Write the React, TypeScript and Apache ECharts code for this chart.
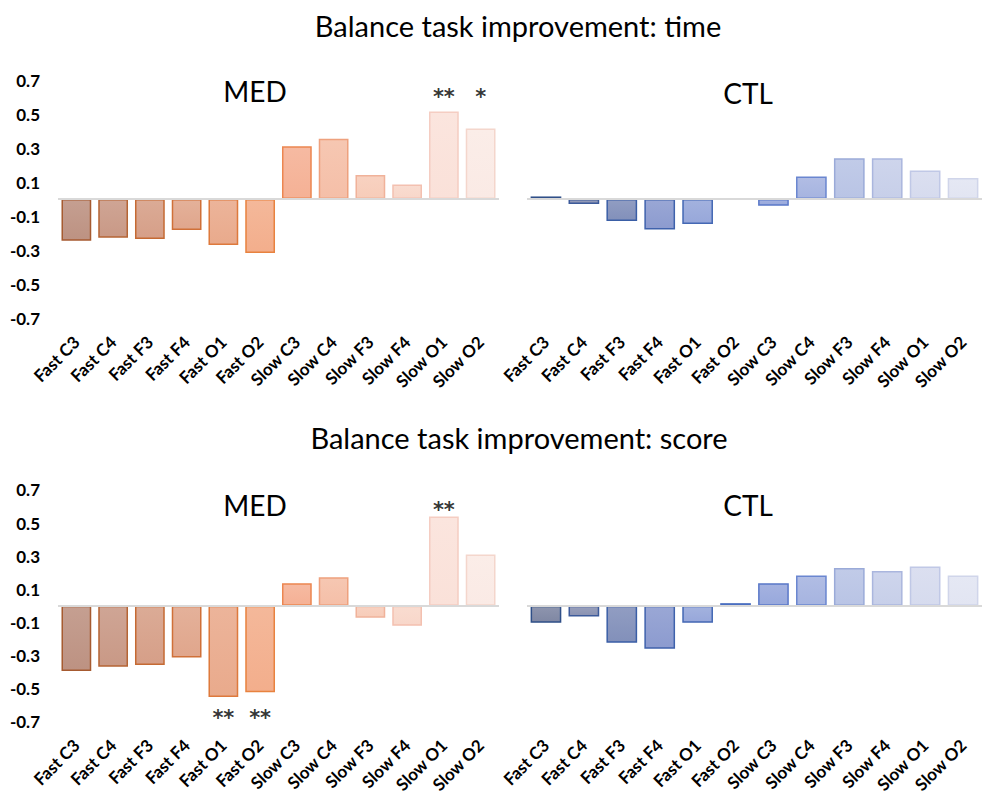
import React, { useEffect, useRef } from "react";
import * as echarts from "echarts";

// Electrode / speed conditions on the x axis
const categories = [
  "Fast C3", "Fast C4", "Fast F3", "Fast F4", "Fast O1", "Fast O2",
  "Slow C3", "Slow C4", "Slow F3", "Slow F4", "Slow O1", "Slow O2",
];

// Labelled ticks on the value axis
const yTicks = [0.7, 0.5, 0.3, 0.1, -0.1, -0.3, -0.5, -0.7];

// Balance task improvement: time
const timeMed = [-0.245, -0.228, -0.235, -0.182, -0.27, -0.318, 0.31, 0.355, 0.141, 0.086, 0.515, 0.415];
const timeCtl = [0.015, -0.03, -0.13, -0.18, -0.147, 0, -0.04, 0.133, 0.239, 0.239, 0.168, 0.124];

// Balance task improvement: score
const scoreMed = [-0.394, -0.368, -0.358, -0.312, -0.551, -0.523, 0.137, 0.173, -0.072, -0.121, 0.539, 0.31];
const scoreCtl = [-0.103, -0.064, -0.223, -0.26, -0.103, 0.016, 0.137, 0.183, 0.229, 0.211, 0.237, 0.183];

// Significance marks: [category, mark, side]
const timeMedStars: [string, string, "above" | "below"][] = [
  ["Slow O1", "**", "above"],
  ["Slow O2", "*", "above"],
];
const scoreMedStars: [string, string, "above" | "below"][] = [
  ["Slow O1", "**", "above"],
  ["Fast O1", "**", "below"],
  ["Fast O2", "**", "below"],
];

// Per-category palettes (fill, border)
const medFill = ["#bd9282", "#c99986", "#d69f88", "#e0a68c", "#e9aa8c", "#f3ae8c", "#f5b195", "#f5bfa8", "#f7ccb9", "#f8d7ca", "#fae1d9", "#faeae5"];
const medBorder = ["#a65a30", "#b56434", "#c56a33", "#d07038", "#de793c", "#e8823f", "#ec8650", "#eea17e", "#f0b29a", "#f3c0b0", "#f5cdc2", "#f4d6cc"];
const ctlFill = ["#7f87a3", "#8a92b2", "#8290ba", "#8c9bcf", "#97a7da", "#95a6db", "#98a8dc", "#a6b4e0", "#b9c4e5", "#c7cfe9", "#d6dbee", "#e2e5f2"];
const ctlBorder = ["#2f4f88", "#3c5a9a", "#3a5ea6", "#3f62ac", "#4468b4", "#4a6ec0", "#5a78c8", "#6a86d0", "#9aaad8", "#aab6de", "#c0c8e6", "#d0d5ea"];

const FONT = "Lato, 'Open Sans', 'DejaVu Sans', sans-serif";

function lighten(hex: string, amt: number): string {
  const n = parseInt(hex.slice(1), 16);
  const r = (n >> 16) & 255, g = (n >> 8) & 255, b = n & 255;
  const f = (c: number) => Math.round(c + (255 - c) * amt);
  return `rgb(${f(r)},${f(g)},${f(b)})`;
}

function barData(values: number[], fills: string[], borders: string[]) {
  return values.map((v, i) => ({
    value: v,
    itemStyle: {
      color: new echarts.graphic.LinearGradient(0, 0, 0, 1, [
        { offset: 0, color: lighten(fills[i], 0.12) },
        { offset: 1, color: fills[i] },
      ]),
      borderColor: borders[i],
      borderWidth: 1.5,
    },
  }));
}

export default function App() {
  const ref = useRef<HTMLDivElement>(null);

  useEffect(() => {
    if (!ref.current) return;
    const chart = echarts.init(ref.current, null, { renderer: "svg" });

    const grids = [
      { left: 58, top: 63, width: 441, height: 272 },
      { left: 527, top: 63, width: 465, height: 272 },
      { left: 58, top: 473.4, width: 441, height: 264.8 },
      { left: 527, top: 473.4, width: 465, height: 264.8 },
    ];

    const xAxis = grids.map((_, i) => ({
      type: "category" as const,
      gridIndex: i,
      data: categories,
      axisLine: { show: false },
      axisTick: { show: false },
      axisLabel: {
        rotate: 45,
        interval: 0,
        margin: 4,
        color: "#000",
        fontWeight: "bold" as const,
        fontSize: 17,
        fontFamily: FONT,
      },
    }));

    const yAxis = grids.map((_, i) => ({
      type: "value" as const,
      gridIndex: i,
      min: -0.8,
      max: 0.8,
      interval: 0.1,
      axisLine: { show: false },
      axisTick: { show: false },
      splitLine: { show: false },
      axisLabel: {
        show: i % 2 === 0,
        margin: 18,
        color: "#000",
        fontWeight: "bold" as const,
        fontSize: 17,
        fontFamily: FONT,
        formatter: (v: number) =>
          yTicks.some((t) => Math.abs(t - v) < 1e-6) ? v.toFixed(1) : "",
      },
    }));

    const panels = [
      { values: timeMed, fills: medFill, borders: medBorder },
      { values: timeCtl, fills: ctlFill, borders: ctlBorder },
      { values: scoreMed, fills: medFill, borders: medBorder },
      { values: scoreCtl, fills: ctlFill, borders: ctlBorder },
    ];

    const series: any[] = [];
    panels.forEach((p, i) => {
      series.push({
        type: "bar",
        xAxisIndex: i,
        yAxisIndex: i,
        barCategoryGap: "19%",
        data: barData(p.values, p.fills, p.borders),
        z: 2,
      });
      series.push({
        type: "line",
        xAxisIndex: i,
        yAxisIndex: i,
        data: [],
        z: 5,
        markLine: {
          silent: true,
          symbol: ["none", "none"],
          label: { show: false },
          lineStyle: { color: "#d9d9d9", width: 2, type: "solid" },
          data: [{ yAxis: 0 }],
        },
      });
    });

    // Asterisks sit at a fixed height above / below the plotted bars
    const starSeries = (
      stars: [string, string, "above" | "below"][],
      idx: number,
      above: number,
      below: number
    ) => ({
      type: "scatter",
      xAxisIndex: idx,
      yAxisIndex: idx,
      symbolSize: 1,
      itemStyle: { color: "rgba(0,0,0,0)" },
      z: 6,
      data: stars.map(([cat, mark, side]) => ({
        value: [cat, side === "above" ? above : below],
        mark,
      })),
      label: {
        show: true,
        position: "inside",
        formatter: (p: any) => p.data.mark,
        color: "#000",
        fontSize: 21,
        fontWeight: "bold",
        fontFamily: "'DejaVu Sans', sans-serif",
      },
    });
    series.push(starSeries(timeMedStars, 0, 0.6, -0.66));
    series.push(starSeries(scoreMedStars, 2, 0.58, -0.68));

    const text = (t: string, x: number, y: number, size: number) => ({
      type: "text",
      x,
      y,
      style: {
        text: t,
        textAlign: "center",
        textVerticalAlign: "middle",
        fill: "#000",
        font: `${size}px ${FONT}`,
      },
    });

    chart.setOption({
      animation: false,
      backgroundColor: "#fff",
      grid: grids,
      xAxis,
      yAxis,
      series,
      graphic: [
        text("Balance task improvement: time", 518, 25, 29),
        text("Balance task improvement: score", 519, 437, 29),
        text("MED", 255, 91, 28),
        text("CTL", 748, 93, 28),
        text("MED", 255, 505, 28),
        text("CTL", 748, 505, 28),
      ],
    });

    return () => chart.dispose();
  }, []);

  return (
    <div
      ref={ref}
      style={{ position: "absolute", left: 0, top: 0, width: 982, height: 798 }}
    />
  );
}
